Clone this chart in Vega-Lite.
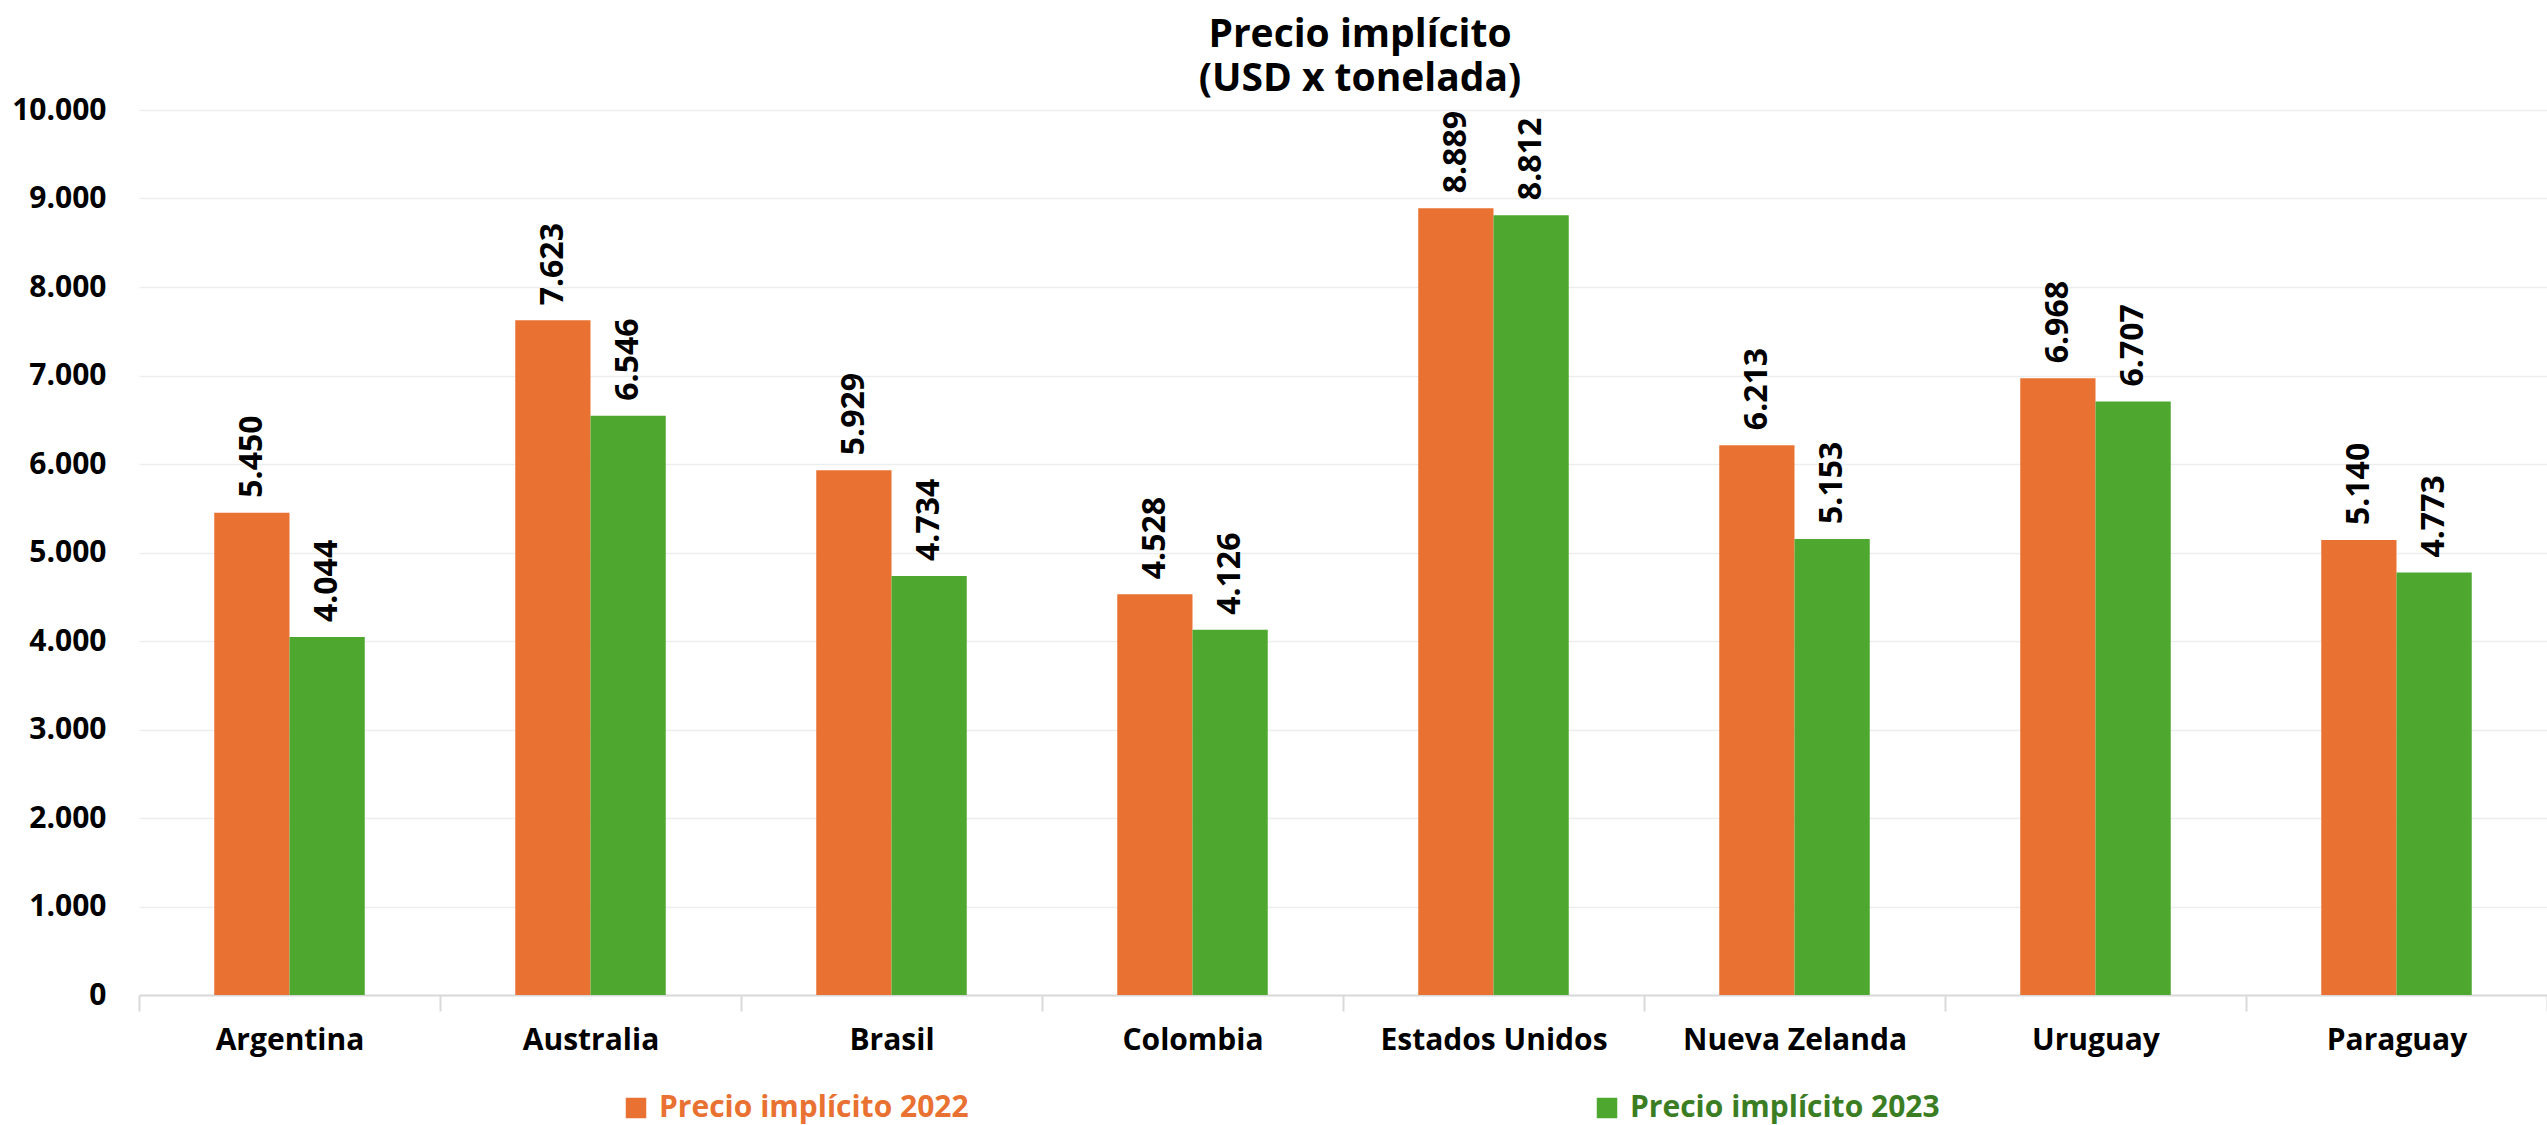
{
  "$schema": "https://vega.github.io/schema/vega-lite/v6.json",
  "autosize": "none",
  "width": 2408,
  "height": 885,
  "padding": {"left": 139, "top": 110, "right": 0, "bottom": 130},
  "background": "white",
  "title": {
    "text": "Precio implícito",
    "subtitle": "(USD x tonelada)",
    "anchor": "middle",
    "frame": "group",
    "fontSize": 39,
    "fontWeight": "bold",
    "font": "Open Sans",
    "color": "#000000",
    "subtitleFontSize": 39,
    "subtitleFontWeight": "bold",
    "subtitleFont": "Open Sans",
    "subtitleColor": "#000000",
    "subtitlePadding": 5,
    "subtitleLineHeight": 44,
    "dx": 17,
    "dy": 10,
    "offset": 6
  },
  "data": {
    "values": [
      {"pais": "Argentina", "serie": "Precio implícito 2022", "valor": 5450},
      {"pais": "Argentina", "serie": "Precio implícito 2023", "valor": 4044},
      {"pais": "Australia", "serie": "Precio implícito 2022", "valor": 7623},
      {"pais": "Australia", "serie": "Precio implícito 2023", "valor": 6546},
      {"pais": "Brasil", "serie": "Precio implícito 2022", "valor": 5929},
      {"pais": "Brasil", "serie": "Precio implícito 2023", "valor": 4734},
      {"pais": "Colombia", "serie": "Precio implícito 2022", "valor": 4528},
      {"pais": "Colombia", "serie": "Precio implícito 2023", "valor": 4126},
      {"pais": "Estados Unidos", "serie": "Precio implícito 2022", "valor": 8889},
      {"pais": "Estados Unidos", "serie": "Precio implícito 2023", "valor": 8812},
      {"pais": "Nueva Zelanda", "serie": "Precio implícito 2022", "valor": 6213},
      {"pais": "Nueva Zelanda", "serie": "Precio implícito 2023", "valor": 5153},
      {"pais": "Uruguay", "serie": "Precio implícito 2022", "valor": 6968},
      {"pais": "Uruguay", "serie": "Precio implícito 2023", "valor": 6707},
      {"pais": "Paraguay", "serie": "Precio implícito 2022", "valor": 5140},
      {"pais": "Paraguay", "serie": "Precio implícito 2023", "valor": 4773}
    ]
  },
  "encoding": {
    "x": {
      "field": "pais",
      "type": "nominal",
      "sort": null,
      "scale": {"paddingInner": 0, "paddingOuter": 0},
      "axis": {
        "title": null,
        "labelAngle": 0,
        "labelFontSize": 30,
        "labelFontWeight": "bold",
        "labelColor": "#000000",
        "labelFont": "Open Sans",
        "labelPadding": 14,
        "labelLimit": 0,
        "domainColor": "#D9D9D9",
        "domainWidth": 2,
        "tickColor": "#D9D9D9",
        "tickWidth": 2,
        "tickSize": 16,
        "tickBand": "extent",
        "grid": false
      }
    },
    "xOffset": {
      "field": "serie",
      "type": "nominal",
      "scale": {"paddingInner": 0, "paddingOuter": 1.076}
    },
    "y": {
      "field": "valor",
      "type": "quantitative",
      "scale": {"domain": [0, 10000], "nice": false},
      "axis": {
        "title": null,
        "values": [0, 1000, 2000, 3000, 4000, 5000, 6000, 7000, 8000, 9000, 10000],
        "format": ",d",
        "labelFontSize": 30,
        "labelFontWeight": "bold",
        "labelColor": "#000000",
        "labelFont": "Open Sans",
        "labelPadding": 33,
        "ticks": false,
        "domain": false,
        "grid": true,
        "gridColor": "#EDEDED",
        "gridWidth": 1.5
      }
    }
  },
  "layer": [
    {
      "mark": {"type": "bar"},
      "encoding": {
        "color": {
          "field": "serie",
          "type": "nominal",
          "scale": {
            "domain": ["Precio implícito 2022", "Precio implícito 2023"],
            "range": ["#E97132", "#4EA72E"]
          },
          "legend": {
            "title": null,
            "orient": "none",
            "legendX": 482,
            "legendY": 983,
            "direction": "horizontal",
            "columns": 2,
            "columnPadding": 623,
            "symbolType": "square",
            "symbolSize": 420,
            "symbolStrokeWidth": 0,
            "labelFontSize": 30,
            "labelFontWeight": "bold",
            "labelFont": "Open Sans",
            "labelOffset": 8,
            "labelLimit": 0,
            "encode": {
              "labels": {
                "update": {
                  "fill": {"signal": "datum.label == 'Precio implícito 2022' ? '#E97132' : '#3B7D23'"}
                }
              }
            }
          }
        }
      }
    },
    {
      "mark": {
        "type": "text",
        "angle": -90,
        "align": "left",
        "baseline": "middle",
        "dx": 15,
        "fontSize": 32,
        "fontWeight": "bold",
        "font": "Open Sans",
        "color": "#000000"
      },
      "encoding": {
        "text": {"field": "valor", "type": "quantitative", "format": ",d"}
      }
    }
  ],
  "config": {
    "locale": {"number": {"decimal": ",", "thousands": ".", "grouping": [3], "currency": ["$", ""]}},
    "view": {"stroke": null},
    "font": "Open Sans"
  }
}
